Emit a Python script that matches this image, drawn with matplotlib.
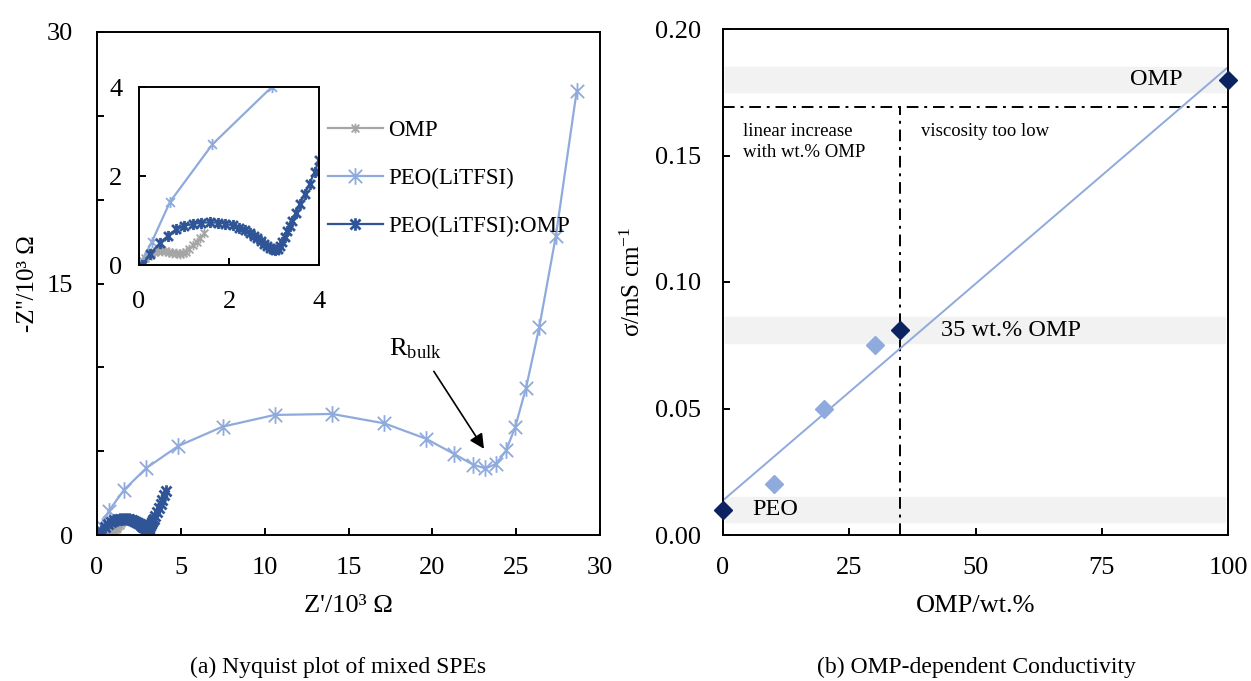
import numpy as np
import matplotlib
matplotlib.use('Agg')
import matplotlib.pyplot as plt
from matplotlib.path import Path
from matplotlib.lines import Line2D

plt.rcParams['font.family'] = ['Liberation Serif', 'DejaVu Serif']
plt.rcParams['mathtext.fontset'] = 'custom'
plt.rcParams['mathtext.rm'] = 'Liberation Serif'
plt.rcParams['mathtext.it'] = 'Liberation Serif:italic'
plt.rcParams['font.size'] = 19
plt.rcParams['axes.linewidth'] = 1.4

# --- (a) Nyquist data, Z'/10^3 Ohm and -Z''/10^3 Ohm
peo_x = [0.02, 0.28, 0.69, 1.63, 2.95, 4.85, 7.49, 10.59, 14.02, 17.13, 19.60,
         21.29, 22.42, 23.17, 23.80, 24.40, 24.95, 25.59, 26.38, 27.37, 28.61]
peo_y = [0.01, 0.51, 1.42, 2.71, 4.00, 5.31, 6.46, 7.16, 7.22, 6.66, 5.75,
         4.84, 4.20, 3.97, 4.24, 5.04, 6.46, 8.78, 12.41, 17.85, 26.49]

mix_x = [0.07, 0.25, 0.47, 0.65, 0.82, 1.00, 1.19, 1.38, 1.58, 1.75, 1.91, 2.08,
         2.23, 2.35, 2.46, 2.55, 2.63, 2.70, 2.77, 2.84, 2.92, 2.98, 3.03, 3.08,
         3.13, 3.18, 3.24, 3.29, 3.35, 3.40, 3.48, 3.57, 3.68, 3.79, 3.90, 4.00,
         4.12]
mix_y = [0.00, 0.25, 0.50, 0.66, 0.80, 0.88, 0.92, 0.95, 0.96, 0.95, 0.93, 0.89,
         0.84, 0.78, 0.72, 0.66, 0.60, 0.54, 0.48, 0.43, 0.38, 0.35, 0.34, 0.36,
         0.42, 0.52, 0.64, 0.76, 0.88, 0.98, 1.16, 1.36, 1.60, 1.83, 2.08, 2.36,
         2.62]

omp_x = [0.02, 0.08, 0.14, 0.20, 0.27, 0.34, 0.42, 0.50, 0.58, 0.66, 0.74,
         0.82, 0.90, 0.97, 1.04, 1.12, 1.20, 1.28, 1.36, 1.45]
omp_y = [0.00, 0.08, 0.15, 0.20, 0.26, 0.30, 0.32, 0.32, 0.31, 0.30, 0.28,
         0.26, 0.25, 0.26, 0.30, 0.36, 0.44, 0.52, 0.60, 0.71]

# --- (b) conductivity data
wt_light = [10, 20, 30]
sig_light = [0.020, 0.050, 0.075]
wt_dark = [0, 35, 100]
sig_dark = [0.010, 0.081, 0.180]
dark_labels = ['PEO', '35 wt.% OMP', 'OMP']

c_omp = '#a5a5a5'
c_peo = '#8faadc'
c_mix = '#2f5597'
c_navy = '#0b2461'

# Excel-like star marker: X with a vertical bar
star = Path([(0, -1), (0, 1), (-0.8, -0.8), (0.8, 0.8), (-0.8, 0.8), (0.8, -0.8)],
            [Path.MOVETO, Path.LINETO, Path.MOVETO, Path.LINETO, Path.MOVETO, Path.LINETO])

W, H = 1251, 681
fig = plt.figure(figsize=(W / 100, H / 100), dpi=100)


def px_axes(l, r, t, b):
    return fig.add_axes([l / W, 1 - b / H, (r - l) / W, (b - t) / H])


def style(ax, padx, pady):
    ax.tick_params(direction='in', length=5, width=1.4)
    ax.tick_params(axis='x', pad=padx)
    ax.tick_params(axis='y', pad=pady)


ax1 = px_axes(97, 600, 32, 535)
style(ax1, 16, 17)
ax1.plot(omp_x, omp_y, color=c_omp, lw=1.6, marker=star, ms=7, mew=1.3)
ax1.plot(peo_x, peo_y, color=c_peo, lw=1.6, marker=star, ms=12, mew=1.3)
ax1.plot(mix_x, mix_y, color=c_mix, lw=1.6, marker=star, ms=9, mew=2.0)
ax1.set_xlim(0, 30)
ax1.set_ylim(0, 30)
ax1.set_xticks([0, 5, 10, 15, 20, 25, 30])
ax1.set_yticks([0, 5, 10, 15, 20, 25, 30])
ax1.set_yticklabels(['0', '', '', '15', '', '', '30'])
ax1.set_xlabel("Z'/10³ Ω")
ax1.set_ylabel("-Z''/10³ Ω", fontsize=18)
ax1.yaxis.set_label_coords(-0.115, 0.5)
ax1.xaxis.set_label_coords(0.5, -0.119)
ax1.annotate('', xy=(23.17, 5.0), xytext=(20.0, 9.9),
             arrowprops=dict(arrowstyle='-|>', color='black', lw=1.2, mutation_scale=22))
ax1.text(17.4, 11.1, r'R$_{\mathrm{bulk}}$', fontsize=19, va='center')

leg_handles = [Line2D([], [], color=c_omp, lw=1.6, marker=star, ms=7, mew=1.3),
               Line2D([], [], color=c_peo, lw=1.6, marker=star, ms=12, mew=1.3),
               Line2D([], [], color=c_mix, lw=1.6, marker=star, ms=9, mew=2.0)]
fig.legend(leg_handles, ['OMP', 'PEO(LiTFSI)', 'PEO(LiTFSI):OMP'],
           loc='upper left', bbox_to_anchor=(323 / W, 1 - 115 / H), frameon=False,
           fontsize=16.5, handlelength=2.4, handletextpad=0.25, labelspacing=1.19,
           borderaxespad=0, borderpad=0.2)

ins = px_axes(139, 319, 87, 265)
style(ins, 19, 12)
ins.plot(omp_x, omp_y, color=c_omp, lw=1.6, marker=star, ms=7, mew=1.3)
ins.plot(peo_x, peo_y, color=c_peo, lw=1.6, marker=star, ms=8, mew=1.3)
ins.plot(mix_x, mix_y, color=c_mix, lw=1.6, marker=star, ms=8, mew=2.0)
ins.set_xlim(0, 4)
ins.set_ylim(0, 4)
ins.set_xticks([0, 2, 4])
ins.set_yticks([0, 2, 4])

ax2 = px_axes(723, 1228, 29, 535)
style(ax2, 16, 16)
for yc in sig_dark:
    ax2.axhspan(yc - 0.005, yc + 0.005, xmin=0.003, xmax=0.995, color='#f2f2f2', zorder=0)
slope, icpt = np.polyfit(wt_light + wt_dark, sig_light + sig_dark, 1)
xf = np.array([0, 100])
ax2.plot(xf, slope * xf + icpt, color=c_peo, lw=1.4, zorder=2)
ax2.axhline(0.169, color='black', lw=1.4, ls=(0, (6, 3, 1.5, 3)), zorder=1)
ax2.plot([35, 35], [0, 0.169], color='black', lw=1.4, ls=(0, (6, 3, 1.5, 3)), zorder=1)
ax2.plot(wt_light, sig_light, ls='none', marker='D', ms=9, color=c_peo, zorder=3)
ax2.plot(wt_dark, sig_dark, ls='none', marker='D', ms=9, color=c_navy, zorder=3,
         clip_on=False)
ax2.text(5.8, sig_dark[0], dark_labels[0], fontsize=17.5, va='center')
ax2.text(43.2, sig_dark[1], dark_labels[1], fontsize=17.5, va='center')
ax2.text(80.5, sig_dark[2], dark_labels[2], fontsize=17.5, va='center')
ax2.text(4.0, 0.163, 'linear increase\nwith wt.% OMP', fontsize=13.5, va='top',
         linespacing=1.3)
ax2.text(39.2, 0.163, 'viscosity too low', fontsize=13.5, va='top')
ax2.set_xlim(0, 100)
ax2.set_ylim(0, 0.2)
ax2.set_xticks([0, 25, 50, 75, 100])
ax2.set_yticks([0, 0.05, 0.10, 0.15, 0.20])
ax2.set_yticklabels(['0.00', '0.05', '0.10', '0.15', '0.20'])
ax2.set_xlabel('OMP/wt.%')
ax2.set_ylabel(r'σ/mS cm$^{-1}$', fontsize=18)
ax2.yaxis.set_label_coords(-0.154, 0.5)
ax2.xaxis.set_label_coords(0.5, -0.119)

fig.text(338 / W, 1 - 667 / H, '(a) Nyquist plot of mixed SPEs', ha='center', va='center',
         fontsize=17)
fig.text(976 / W, 1 - 667 / H, '(b) OMP-dependent Conductivity', ha='center', va='center',
         fontsize=17)

fig.savefig('out.png', dpi=100)
